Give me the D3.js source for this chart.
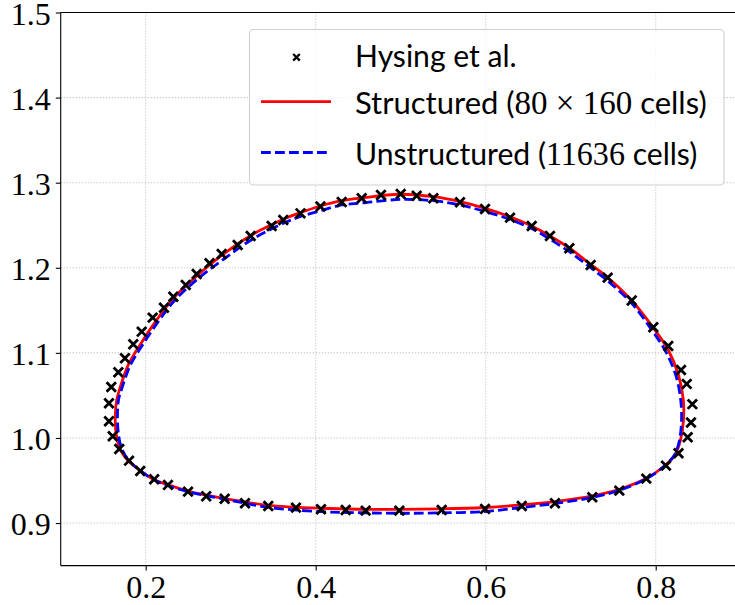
<!DOCTYPE html>
<html><head><meta charset="utf-8">
<script src="https://cdn.jsdelivr.net/npm/d3@7"></script>
<style>body{margin:0;background:#fff;} svg{display:block;}</style>
</head><body><svg id="c" width="735" height="605"></svg>
<script>
// ---------- data ----------
const xTicks = [0.2, 0.4, 0.6, 0.8];
const xTickLabels = ["0.2", "0.4", "0.6", "0.8"];
const yTicks = [0.9, 1.0, 1.1, 1.2, 1.3, 1.4, 1.5];
const yTickLabels = ["0.9", "1.0", "1.1", "1.2", "1.3", "1.4", "1.5"];
const xDomain = [0.1, 0.9];
const yDomain = [0.85, 1.5];

const hysingX = [0.5000,0.4768,0.4541,0.4306,0.4056,0.3821,0.3619,0.3482,0.3235,0.3082,0.2894,0.2751,0.2600,0.2471,0.2325,0.2215,0.2082,0.1953,0.1854,0.1756,0.1678,0.1595,0.1568,0.1568,0.1612,0.1689,0.1804,0.1936,0.2100,0.2262,0.2498,0.2712,0.2929,0.3168,0.3442,0.3768,0.4062,0.4353,0.4588,0.4984,0.5482,0.5992,0.6424,0.6815,0.7254,0.7572,0.7889,0.8121,0.8268,0.8376,0.8415,0.8431,0.8365,0.8298,0.8148,0.7972,0.7718,0.7435,0.7235,0.6984,0.6756,0.6541,0.6286,0.5992,0.5698,0.5384,0.5188];
const hysingY = [1.2867,1.2855,1.2817,1.2773,1.2720,1.2640,1.2562,1.2491,1.2374,1.2268,1.2162,1.2053,1.1927,1.1798,1.1660,1.1531,1.1414,1.1249,1.1102,1.0937,1.0772,1.0599,1.0408,1.0196,1.0020,0.9871,0.9733,0.9612,0.9515,0.9448,0.9369,0.9315,0.9286,0.9233,0.9201,0.9181,0.9162,0.9154,0.9146,0.9146,0.9154,0.9166,0.9201,0.9233,0.9303,0.9381,0.9522,0.9675,0.9820,1.0008,1.0182,1.0397,1.0635,1.0799,1.1081,1.1301,1.1616,1.1884,1.2033,1.2229,1.2374,1.2491,1.2589,1.2691,1.2770,1.2817,1.2847];

const structuredX = [0.4992,0.5384,0.5698,0.5992,0.6286,0.6541,0.6756,0.6984,0.7235,0.7435,0.7718,0.7965,0.8148,0.8268,0.8325,0.8327,0.8292,0.8227,0.8098,0.7892,0.7572,0.7254,0.6815,0.6424,0.5992,0.5462,0.4984,0.4521,0.4062,0.3442,0.3168,0.2913,0.2521,0.2266,0.2089,0.1933,0.1786,0.1692,0.1651,0.1642,0.1659,0.1698,0.1795,0.1933,0.2129,0.2325,0.2600,0.2894,0.3227,0.3619,0.3815,0.4056,0.4306,0.4541];
const structuredY = [1.2864,1.2835,1.2777,1.2699,1.2600,1.2491,1.2374,1.2233,1.2039,1.1886,1.1616,1.1304,1.1034,1.0740,1.0447,1.0211,0.9976,0.9800,0.9667,0.9526,0.9397,0.9318,0.9251,0.9213,0.9183,0.9166,0.9160,0.9162,0.9174,0.9209,0.9248,0.9291,0.9369,0.9448,0.9515,0.9618,0.9741,0.9882,1.0059,1.0259,1.0447,1.0588,1.0858,1.1093,1.1387,1.1642,1.1904,1.2145,1.2374,1.2570,1.2646,1.2726,1.2788,1.2820];

const unstructuredX = [0.4992,0.5384,0.5698,0.5992,0.6286,0.6541,0.6756,0.6984,0.7235,0.7435,0.7718,0.7945,0.8121,0.8239,0.8294,0.8304,0.8280,0.8221,0.8098,0.7892,0.7572,0.7254,0.6815,0.6424,0.5992,0.5462,0.4984,0.4521,0.4062,0.3442,0.3168,0.2913,0.2521,0.2266,0.2089,0.1933,0.1798,0.1715,0.1678,0.1668,0.1680,0.1721,0.1821,0.1962,0.2162,0.2356,0.2633,0.2927,0.3251,0.3627,0.3815,0.4059,0.4306,0.4541];
const unstructuredY = [1.2803,1.2788,1.2738,1.2662,1.2568,1.2462,1.2335,1.2189,1.2001,1.1845,1.1583,1.1281,1.1011,1.0729,1.0447,1.0211,0.9976,0.9800,0.9667,0.9521,0.9385,0.9301,0.9230,0.9183,0.9136,0.9119,0.9115,0.9121,0.9134,0.9183,0.9233,0.9283,0.9362,0.9438,0.9512,0.9618,0.9741,0.9882,1.0059,1.0259,1.0447,1.0588,1.0858,1.1093,1.1387,1.1633,1.1886,1.2109,1.2333,1.2526,1.2600,1.2671,1.2738,1.2761];

// legend labels: [text, font] pieces ("s" = sans text, "m" = math serif)
const legendHysing = [["Hysing et al.", "s"]];
const legendStructured = [["Structured (", "s"], ["80 \u00d7 160", "m"], [" cells)", "s"]];
const legendUnstructured = [["Unstructured (", "s"], ["11636", "m"], [" cells)", "s"]];

// ---------- layout ----------
const svg = d3.select("#c");
const plot = {left: 60.7, right: 740.7, top: 12.5, bottom: 565.6};
const x = d3.scaleLinear().domain(xDomain).range([plot.left, plot.right]);
const y = d3.scaleLinear().domain(yDomain).range([plot.bottom, plot.top]);
const SERIF = "'Liberation Serif', 'Times New Roman', serif";
const SANS = "Lato, 'Open Sans', sans-serif";

svg.append("defs").append("clipPath").attr("id", "clip")
  .append("rect").attr("x", plot.left).attr("y", plot.top)
  .attr("width", plot.right - plot.left).attr("height", plot.bottom - plot.top);

// grid
const grid = svg.append("g").attr("stroke", "#bdbdbd").attr("stroke-width", 1.1)
  .attr("stroke-dasharray", "1.1,1.9");
grid.selectAll("line.v").data(xTicks).join("line").attr("class", "v")
  .attr("x1", d => x(d)).attr("x2", d => x(d)).attr("y1", plot.top).attr("y2", plot.bottom);
grid.selectAll("line.h").data(yTicks).join("line").attr("class", "h")
  .attr("x1", plot.left).attr("x2", plot.right).attr("y1", d => y(d)).attr("y2", d => y(d));

// curves
const toPts = (xs, ys) => xs.map((v, i) => [v, ys[i]]);
const line = d3.line().x(d => x(d[0])).y(d => y(d[1])).curve(d3.curveCatmullRomClosed.alpha(0.5));
const gc = svg.append("g").attr("clip-path", "url(#clip)");
gc.append("path").attr("d", line(toPts(structuredX, structuredY)))
  .attr("fill", "none").attr("stroke", "#ff0000").attr("stroke-width", 2.8);
gc.append("path").attr("d", line(toPts(unstructuredX, unstructuredY)))
  .attr("fill", "none").attr("stroke", "#0000ff").attr("stroke-width", 2.8)
  .attr("stroke-dasharray", "9.8,4.2");

// markers
const xMark = a => `M${-a},${-a}L${a},${a}M${-a},${a}L${a},${-a}`;
gc.append("g").selectAll("path").data(toPts(hysingX, hysingY)).join("path")
  .attr("transform", d => `translate(${x(d[0])},${y(d[1])})`)
  .attr("d", xMark(4.7)).attr("stroke", "#000").attr("stroke-width", 2.8).attr("fill", "none");

// axes (ticks; spines drawn separately)
const xAxis = d3.axisBottom(x).tickValues(xTicks).tickFormat((d, i) => xTickLabels[i]).tickSizeOuter(0).tickSize(4.9).tickPadding(4);
const yAxis = d3.axisLeft(y).tickValues(yTicks).tickFormat((d, i) => yTickLabels[i]).tickSizeOuter(0).tickSize(4.9).tickPadding(5);
const gx = svg.append("g").attr("transform", `translate(0,${plot.bottom})`).call(xAxis);
const gy = svg.append("g").attr("transform", `translate(${plot.left},0)`).call(yAxis);
[gx, gy].forEach(g => {
  g.select(".domain").remove();
  g.selectAll(".tick line").attr("stroke", "#000").attr("stroke-width", 1.1);
  g.selectAll(".tick text").attr("fill", "#000").style("font-family", SERIF).style("font-size", "32px");
});
gx.selectAll(".tick text").attr("dy", null).attr("y", 32.5);
gy.selectAll(".tick text").attr("dy", null).attr("y", 11.8);
// spines
const sp = svg.append("g").attr("stroke", "#000").attr("stroke-width", 1.1);
sp.append("line").attr("x1", plot.left).attr("x2", plot.left).attr("y1", plot.top).attr("y2", plot.bottom);
sp.append("line").attr("x1", plot.left).attr("x2", plot.right).attr("y1", plot.bottom).attr("y2", plot.bottom);
sp.append("line").attr("x1", plot.left).attr("x2", plot.right).attr("y1", plot.top).attr("y2", plot.top);
sp.append("line").attr("x1", plot.right).attr("x2", plot.right).attr("y1", plot.top).attr("y2", plot.bottom);

// legend
const lg = svg.append("g");
lg.append("rect").attr("x", 249.5).attr("y", 29.5).attr("width", 474.5).attr("height", 155.5)
  .attr("rx", 4).attr("fill", "#fff").attr("fill-opacity", 0.8).attr("stroke", "#d0d0d0").attr("stroke-width", 1.1);
const rows = [
  {label: legendHysing, base: 66.7, mid: 57.3, kind: "marker", w: 161.7},
  {label: legendStructured, base: 114, mid: 101.7, kind: "solid", w: 353.3},
  {label: legendUnstructured, base: 165, mid: 152.5, kind: "dashed", w: 342.3}
];
rows.forEach(r => {
  if (r.kind === "marker") {
    lg.append("path").attr("transform", `translate(296.5,${r.mid})`).attr("d", xMark(3.3))
      .attr("stroke", "#000").attr("stroke-width", 2.3).attr("fill", "none");
  } else {
    const l = lg.append("line").attr("x1", 261).attr("x2", 331).attr("y1", r.mid).attr("y2", r.mid)
      .attr("stroke-width", 2.8);
    if (r.kind === "solid") l.attr("stroke", "#ff0000");
    else l.attr("stroke", "#0000ff").attr("stroke-dasharray", "9.8,4.2");
  }
  const t = lg.append("text").attr("x", 355).attr("y", r.base).attr("fill", "#000").style("font-size", "31px");
  r.label.forEach(([s, f]) => {
    t.append("tspan").text(s).style("font-family", f === "m" ? SERIF : SANS).style("font-size", f === "m" ? "33px" : "31px");
  });
  const w = t.node().getComputedTextLength();
  if (Math.abs(w - r.w) / r.w > 0.02) t.attr("textLength", r.w).attr("lengthAdjust", "spacingAndGlyphs");
});
</script>
</body></html>
